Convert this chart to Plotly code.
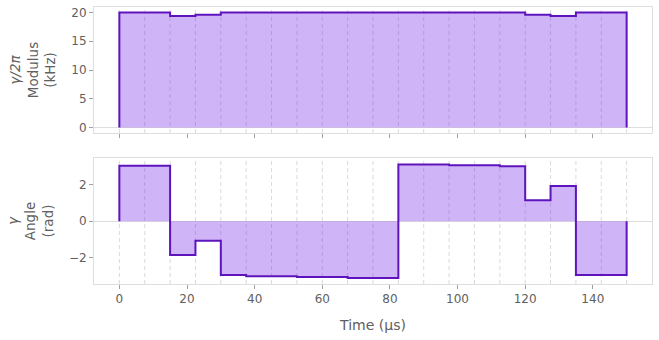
import plotly.graph_objects as go
from plotly.subplots import make_subplots

# Segment boundaries (µs)
segment_starts = [0, 7.5, 15, 22.5, 30, 37.5, 45, 52.5, 60, 67.5,
                  75, 82.5, 90, 97.5, 105, 112.5, 120, 127.5, 135, 142.5]
end_time = 150

# Modulus γ/2π (kHz)
modulus = [20.0, 20.0, 19.4, 19.6, 20.0, 20.0, 20.0, 20.0, 20.0, 20.0,
           20.0, 20.0, 20.0, 20.0, 20.0, 20.0, 19.6, 19.4, 20.0, 20.0]

# Angle γ (rad)
angle = [3.02, 3.02, -1.85, -1.07, -2.94, -3.0, -3.0, -3.05, -3.05, -3.1,
         -3.1, 3.1, 3.1, 3.05, 3.05, 3.0, 1.14, 1.92, -2.94, -2.94]

x_ticks = [0, 20, 40, 60, 80, 100, 120, 140]

LINE = "#5E14BC"
FILL = "rgba(104,12,233,0.31)"
TXT = "#606060"
BORDER = "#dedede"
FONT = "DejaVu Sans"


def step_xy(values):
    xs = [segment_starts[0]] + segment_starts + [end_time, end_time]
    ys = [0] + values + [values[-1], 0]
    return xs, ys


fig = make_subplots(rows=2, cols=1, shared_xaxes=False, vertical_spacing=0.09)

for row, vals in [(1, modulus), (2, angle)]:
    xs, ys = step_xy(vals)
    fig.add_trace(go.Scatter(x=xs, y=ys, mode="lines", line_shape="hv",
                             line=dict(color=LINE, width=2),
                             fill="tozeroy", fillcolor=FILL,
                             hoverinfo="skip", showlegend=False),
                  row=row, col=1)

boundaries = segment_starts + [end_time]
shapes = []
for yref in ["y domain", "y2 domain"]:
    xref = "x" if yref == "y domain" else "x2"
    for b in boundaries:
        shapes.append(dict(type="line", xref=xref, yref=yref, x0=b, x1=b, y0=0, y1=1,
                           line=dict(color="#dadada", width=1, dash="4px,3px"), layer="below"))

axis_common = dict(showline=True, mirror=True, linecolor=BORDER, linewidth=1,
                   ticks="outside", ticklen=4, tickcolor="#a0a0a0",
                   tickfont=dict(size=12, color=TXT, family=FONT), showgrid=False)

fig.update_xaxes(range=[-7.5, 157.5], tickvals=x_ticks, zeroline=False, **axis_common)
fig.update_xaxes(showticklabels=False, row=1, col=1)
fig.update_xaxes(title=dict(text="Time (µs)", font=dict(size=14, color=TXT, family=FONT),
                            standoff=14), row=2, col=1)

fig.update_yaxes(zeroline=True, zerolinecolor=BORDER, zerolinewidth=1, **axis_common)
fig.update_yaxes(range=[-0.96, 20.96], tickvals=[0, 5, 10, 15, 20],
                 title=dict(text="<i>γ/2π</i><br>Modulus<br>(kHz)",
                            font=dict(size=13.5, color=TXT, family=FONT), standoff=12),
                 row=1, col=1)
fig.update_yaxes(range=[-3.43, 3.45], tickvals=[-2, 0, 2],
                 title=dict(text="<i>γ</i><br>Angle<br>(rad)",
                            font=dict(size=13.5, color=TXT, family=FONT), standoff=12),
                 row=2, col=1)

fig.update_layout(width=659, height=340, margin=dict(l=94, r=7, t=7, b=56),
                  plot_bgcolor="white", paper_bgcolor="white", shapes=shapes,
                  font=dict(family=FONT, color=TXT))
fig.layout.yaxis.domain = [0.545, 1.0]
fig.layout.yaxis2.domain = [0.0, 0.455]

fig.write_html("out.html")
